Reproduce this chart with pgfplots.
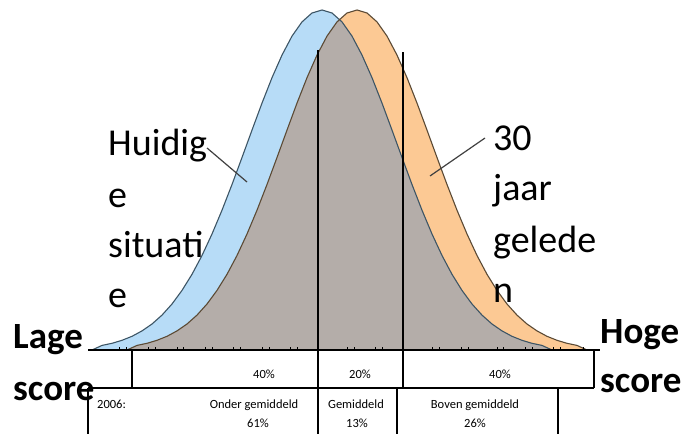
\documentclass[border=0pt]{standalone}
\usepackage{pgfplots}
\pgfplotsset{compat=1.18}
\usepackage{fontspec}
\setmainfont{Carlito}
\definecolor{bluefill}{HTML}{B7DCF7}
\definecolor{orangefill}{HTML}{FCC994}
\definecolor{grayfill}{HTML}{B4ADA9}
\definecolor{blueline}{HTML}{3D5565}
\definecolor{orangeline}{HTML}{5B4A35}
\definecolor{baseline}{HTML}{5A4A3A}
\begin{document}
\begin{tikzpicture}
\begin{axis}[
  width=687pt, height=434pt, scale only axis,
  xmin=0, xmax=687, ymin=-84, ymax=350,
  hide axis, clip=false,
]
\path (axis cs:0,-84) rectangle (axis cs:687,350);
% blue: current situation
\addplot[fill=bluefill, draw=none] coordinates {
(92,0) (102,4.6) (112,6.7) (122,9.7) (132,13.7) (142,19.1) (152,26.0) (162,34.9) (172,46.0) (182,59.6) (192,75.7) (202,94.5) (212,116.0) (222,139.8) (232,165.5) (242,192.5) (252,219.9) (262,246.9) (272,272.3) (282,294.9) (292,313.9) (302,328.1) (312,337.0) (322,340.0) (332,337.0) (342,328.1) (352,313.9) (362,294.9) (372,272.3) (382,246.9) (392,219.9) (402,192.5) (412,165.5) (422,139.8) (432,116.0) (442,94.5) (452,75.7) (462,59.6) (472,46.0) (482,34.9) (492,26.0) (502,19.1) (512,13.7) (522,9.7) (532,6.7) (542,4.6) (552,0)} -- cycle;
% orange: 30 years ago
\addplot[fill=orangefill, draw=none] coordinates {
(127,0) (137,4.6) (147,6.7) (157,9.7) (167,13.7) (177,19.1) (187,26.0) (197,34.9) (207,46.0) (217,59.6) (227,75.7) (237,94.5) (247,116.0) (257,139.8) (267,165.5) (277,192.5) (287,219.9) (297,246.9) (307,272.3) (317,294.9) (327,313.9) (337,328.1) (347,337.0) (357,340.0) (367,337.0) (377,328.1) (387,313.9) (397,294.9) (407,272.3) (417,246.9) (427,219.9) (437,192.5) (447,165.5) (457,139.8) (467,116.0) (477,94.5) (487,75.7) (497,59.6) (507,46.0) (517,34.9) (527,26.0) (537,19.1) (547,13.7) (557,9.7) (567,6.7) (577,4.6) (587,0)} -- cycle;
% overlap
\addplot[fill=grayfill, draw=none] coordinates {
(127,0) (137,4.6) (147,6.7) (157,9.7) (167,13.7) (177,19.1) (187,26.0) (197,34.9) (207,46.0) (217,59.6) (227,75.7) (237,94.5) (247,116.0) (257,139.8) (267,165.5) (277,192.5) (287,219.9) (297,246.9) (307,272.3) (317,294.9) (327,313.9) (337,328.1) (339.5,330.9) (342,328.1) (352,313.9) (362,294.9) (372,272.3) (382,246.9) (392,219.9) (402,192.5) (412,165.5) (422,139.8) (432,116.0) (442,94.5) (452,75.7) (462,59.6) (472,46.0) (482,34.9) (492,26.0) (502,19.1) (512,13.7) (522,9.7) (532,6.7) (542,4.6) (552,0)} -- cycle;
% outlines
\addplot[blueline, line width=1.1pt] coordinates {
(92,0) (102,4.6) (112,6.7) (122,9.7) (132,13.7) (142,19.1) (152,26.0) (162,34.9) (172,46.0) (182,59.6) (192,75.7) (202,94.5) (212,116.0) (222,139.8) (232,165.5) (242,192.5) (252,219.9) (262,246.9) (272,272.3) (282,294.9) (292,313.9) (302,328.1) (312,337.0) (322,340.0) (332,337.0) (342,328.1) (352,313.9) (362,294.9) (372,272.3) (382,246.9) (392,219.9) (402,192.5) (412,165.5) (422,139.8) (432,116.0) (442,94.5) (452,75.7) (462,59.6) (472,46.0) (482,34.9) (492,26.0) (502,19.1) (512,13.7) (522,9.7) (532,6.7) (542,4.6) (552,0)};
\addplot[orangeline, line width=1.1pt] coordinates {
(127,0) (137,4.6) (147,6.7) (157,9.7) (167,13.7) (177,19.1) (187,26.0) (197,34.9) (207,46.0) (217,59.6) (227,75.7) (237,94.5) (247,116.0) (257,139.8) (267,165.5) (277,192.5) (287,219.9) (297,246.9) (307,272.3) (317,294.9) (327,313.9) (337,328.1) (347,337.0) (357,340.0) (367,337.0) (377,328.1) (387,313.9) (397,294.9) (407,272.3) (417,246.9) (427,219.9) (437,192.5) (447,165.5) (457,139.8) (467,116.0) (477,94.5) (487,75.7) (497,59.6) (507,46.0) (517,34.9) (527,26.0) (537,19.1) (547,13.7) (557,9.7) (567,6.7) (577,4.6) (587,0)};
% baseline and small ticks
\addplot[baseline, line width=1.6pt] coordinates {(88,0) (600,0)};
\addplot[baseline, line width=0.8pt, ycomb] coordinates {
(119,3) (126,3) (148,3) (155,3) (177,3) (183,3) (205,3) (212,3) (233,3) (240,3) (262,3) (269,3) (290,3) (297,3) (347,3) (354,3) (375,3) (382,3) (432,3) (439,3) (461,3) (468,3) (497,3) (503,3) (525,3) (532,3) (553,3) (560,3) (583,3)};
% vertical dividers
\addplot[black, line width=1.8pt] coordinates {(318,300) (318,-84)};
\addplot[black, line width=1.8pt] coordinates {(403,298) (403,-38)};
% table lines
\addplot[black, line width=1.4pt] coordinates {(132,0) (132,-38)};
\addplot[black, line width=1.4pt] coordinates {(594,0) (594,-38)};
\addplot[black, line width=1.4pt] coordinates {(88,-38) (594,-38)};
\addplot[black, line width=1.4pt] coordinates {(88,-38) (88,-84)};
\addplot[black, line width=1.4pt] coordinates {(397,-38) (397,-84)};
\addplot[black, line width=1.4pt] coordinates {(558,-38) (558,-84)};
% leader lines
\addplot[black!75, line width=1.2pt] coordinates {(207,202) (247,168)};
\addplot[black!75, line width=1.2pt] coordinates {(485,212) (430,174)};
% big labels
\begin{scope}[every node/.style={inner sep=0pt, anchor=base west, font=\fontsize{38}{40}\selectfont}]
\node at (axis cs:108,195) {Huidig};
\node at (axis cs:108,143) {e};
\node at (axis cs:108,93) {situati};
\node at (axis cs:108,43) {e};
\node at (axis cs:493,200) {30};
\node at (axis cs:493,150) {jaar};
\node at (axis cs:493,98) {gelede};
\node at (axis cs:493,48) {n};
\end{scope}
\begin{scope}[every node/.style={inner sep=0pt, anchor=base west, font=\fontsize{37}{40}\selectfont\bfseries}]
\node at (axis cs:13,2) {Lage};
\node at (axis cs:13,-50) {score};
\node at (axis cs:600,7) {Hoge};
\node at (axis cs:600,-42) {score};
\end{scope}
% table text
\begin{scope}[every node/.style={inner sep=0pt, anchor=base, font=\fontsize{12.5}{14}\selectfont}]
\node at (axis cs:264,-28) {40\%};
\node at (axis cs:360,-28) {20\%};
\node at (axis cs:500,-28) {40\%};
\node[anchor=base west] at (axis cs:97,-58) {2006:};
\node at (axis cs:254,-58) {Onder gemiddeld};
\node at (axis cs:258,-77) {61\%};
\node at (axis cs:356,-58) {Gemiddeld};
\node at (axis cs:357,-77) {13\%};
\node at (axis cs:475,-58) {Boven gemiddeld};
\node at (axis cs:475,-77) {26\%};
\end{scope}
\end{axis}
\end{tikzpicture}
\end{document}
